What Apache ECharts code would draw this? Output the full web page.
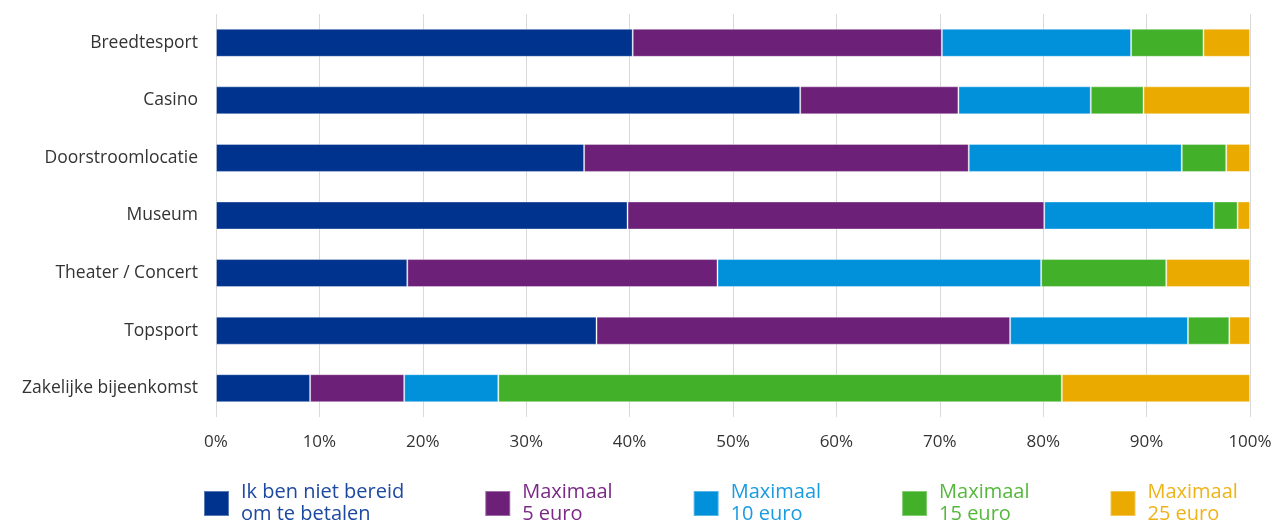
<!DOCTYPE html>
<html><head><meta charset="utf-8">
<script src="https://cdn.jsdelivr.net/npm/echarts@6/dist/echarts.min.js"></script>
<style>html,body{margin:0;padding:0;background:#fff}#c{width:1282px;height:522px}</style>
</head><body><div id="c"></div>
<script>
const categories = ['Breedtesport','Casino','Doorstroomlocatie','Museum','Theater / Concert','Topsport','Zakelijke bijeenkomst'];
const seriesNames = ['Ik ben niet bereid\nom te betalen','Maximaal\n5 euro','Maximaal\n10 euro','Maximaal\n15 euro','Maximaal\n25 euro'];
const colors = ['#00338D','#6D2077','#0091DA','#43B02A','#EAAA00'];
const legendTextColors = ['#1E49A0','#7A2A86','#1A9BE0','#55B83D','#EEB31A'];
const notWilling = [40.3, 56.5, 35.6, 39.8, 18.5, 36.8, 9.1];
const max5      = [29.9, 15.3, 37.2, 40.3, 30.0, 40.0, 9.1];
const max10     = [18.3, 12.8, 20.6, 16.4, 31.3, 17.2, 9.1];
const max15     = [ 7.0,  5.1,  4.3,  2.3, 12.1,  4.0, 54.5];
const max25     = [ 4.5, 10.3,  2.3,  1.2,  8.1,  2.0, 18.2];
const xTicks = [0,10,20,30,40,50,60,70,80,90,100];
const allData = [notWilling, max5, max10, max15, max25];

const font = 'Open Sans';
const chart = echarts.init(document.getElementById('c'));
chart.setOption({
  animation:false,
  textStyle:{fontFamily:font},
  grid:{left:216,right:32,top:14,bottom:105,containLabel:false},
  xAxis:{type:'value',min:0,max:100,interval:10,
    axisLine:{show:false},axisTick:{show:false},
    splitLine:{lineStyle:{color:'#d9d9d9',width:1}},
    axisLabel:{formatter:v=>xTicks.includes(v)?v+'%':'',color:'#333',fontSize:17,margin:17,fontFamily:font}},
  yAxis:{type:'category',data:categories,inverse:true,
    axisLine:{show:false},axisTick:{show:false},
    axisLabel:{color:'#333',fontSize:17.5,margin:18,fontFamily:font}},
  legend:{left:198,top:473,itemWidth:25,itemHeight:25,itemGap:80,icon:'rect',
    data:seriesNames.map((n,i)=>({name:n,textStyle:{color:legendTextColors[i],fontSize:20,lineHeight:22,fontFamily:font,padding:[7,0,0,7]}}))},
  series:seriesNames.map((n,i)=>({name:n,type:'bar',stack:'s',barWidth:28,
    data:allData[i],
    itemStyle:{color:colors[i],borderColor:'rgba(255,255,255,0.35)',borderWidth:1}}))
});
</script></body></html>
